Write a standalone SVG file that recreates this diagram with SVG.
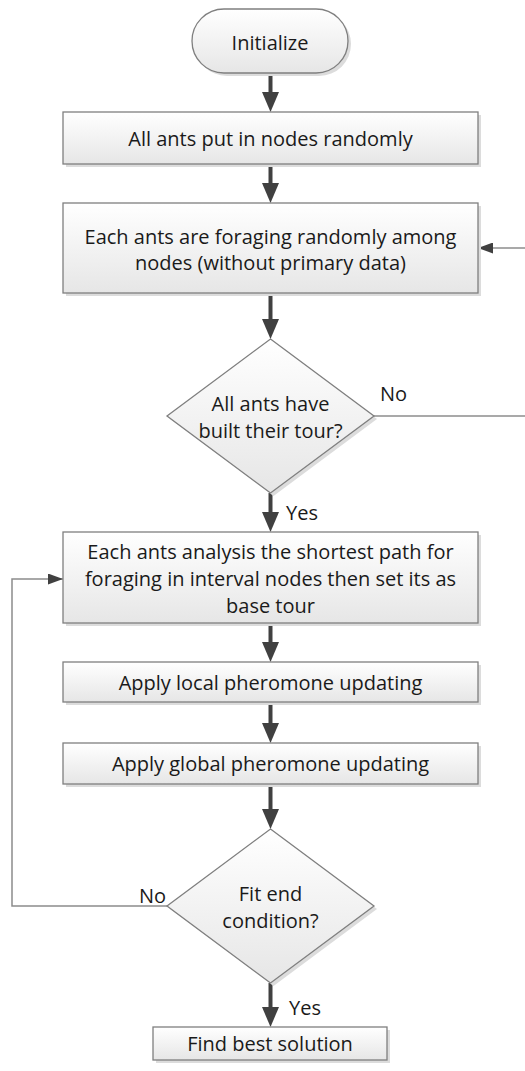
<svg xmlns="http://www.w3.org/2000/svg" width="525" height="1071" viewBox="0 0 525 1071">
<style>
.box{fill:url(#g);stroke:#7f7f7f;stroke-width:1.3}
.sh{fill:#dcdcdc}
.t{font-family:"Open Sans","Noto Sans",sans-serif;font-size:20px;fill:#1a1a1a;text-anchor:middle;dominant-baseline:central}
.lbl{font-family:"Open Sans","Noto Sans",sans-serif;font-size:20px;fill:#1a1a1a;dominant-baseline:central}
.main{stroke:#404040;stroke-width:4;fill:none;marker-end:url(#ah)}
.thin{stroke:#8c8c8c;stroke-width:1.5;fill:none}
</style>
<defs>
<linearGradient id="g" x1="0" y1="0" x2="0" y2="1">
<stop offset="0" stop-color="#ffffff"/>
<stop offset="1" stop-color="#e6e6e6"/>
</linearGradient>
<marker id="ah" viewBox="0 0 20 17" refX="12" refY="8.5" markerWidth="20" markerHeight="17" orient="auto" markerUnits="userSpaceOnUse">
<path d="M0,0 L20,8.5 L0,17 Z" fill="#404040"/>
</marker>
<marker id="ahs" viewBox="0 0 15 11" refX="15" refY="5.5" markerWidth="15" markerHeight="11" orient="auto" markerUnits="userSpaceOnUse">
<path d="M0,0 L15,5.5 L0,11 Z" fill="#404040"/>
</marker>
</defs>
<rect width="525" height="1071" fill="#ffffff"/>

<g id="connectors">
<line class="main" x1="270.5" y1="73" x2="270.5" y2="104"/>
<line class="main" x1="270.5" y1="164" x2="270.5" y2="195"/>
<line class="main" x1="270.5" y1="293" x2="270.5" y2="331"/>
<line class="main" x1="270.5" y1="493" x2="270.5" y2="524"/>
<line class="main" x1="270.5" y1="623" x2="270.5" y2="654"/>
<line class="main" x1="270.5" y1="702" x2="270.5" y2="735"/>
<line class="main" x1="270.5" y1="784" x2="270.5" y2="821"/>
<line class="main" x1="270.5" y1="983" x2="270.5" y2="1019"/>
<line class="thin" x1="525" y1="248" x2="478" y2="248" marker-end="url(#ahs)"/>
<line class="thin" x1="374" y1="416" x2="525" y2="416"/>
<polyline class="thin" points="167,906 12,906 12,579 63,579" marker-end="url(#ahs)"/>
<text class="lbl" x="380" y="393">No</text>
<text class="lbl" x="286" y="512">Yes</text>
<text class="lbl" x="139" y="895">No</text>
<text class="lbl" x="289" y="1007">Yes</text>
</g>

<g id="initialize">
<rect class="sh" x="195" y="12" width="156" height="64" rx="32"/>
<rect class="box" x="192" y="9" width="156" height="64" rx="32"/>
<text class="t" x="270" y="42">Initialize</text>
</g>

<g id="put-ants">
<rect class="sh" x="66" y="115" width="415" height="52"/>
<rect class="box" x="63" y="112" width="415" height="52"/>
<text class="t" x="270.5" y="138">All ants put in nodes randomly</text>
</g>

<g id="foraging">
<rect class="sh" x="66" y="206" width="415" height="90"/>
<rect class="box" x="63" y="203" width="415" height="90"/>
<text class="t" x="270.5" y="236">Each ants are foraging randomly among</text>
<text class="t" x="270.5" y="262">nodes (without primary data)</text>
</g>

<g id="tour-built">
<polygon class="sh" points="273.5,342 377,419 273.5,496 170,419"/>
<polygon class="box" points="270.5,339 374,416 270.5,493 167,416"/>
<text class="t" x="270.5" y="403">All ants have</text>
<text class="t" x="270.5" y="430">built their tour?</text>
</g>

<g id="analysis">
<rect class="sh" x="66" y="535" width="415" height="91"/>
<rect class="box" x="63" y="532" width="415" height="91"/>
<text class="t" x="270.5" y="551">Each ants analysis the shortest path for</text>
<text class="t" x="270.5" y="578">foraging in interval nodes then set its as</text>
<text class="t" x="270.5" y="605">base tour</text>
</g>

<g id="local-update">
<rect class="sh" x="66" y="665" width="415" height="40"/>
<rect class="box" x="63" y="662" width="415" height="40"/>
<text class="t" x="270.5" y="682">Apply local pheromone updating</text>
</g>

<g id="global-update">
<rect class="sh" x="66" y="746" width="415" height="41"/>
<rect class="box" x="63" y="743" width="415" height="41"/>
<text class="t" x="270.5" y="763">Apply global pheromone updating</text>
</g>

<g id="end-condition">
<polygon class="sh" points="273.5,832 377,909 273.5,986 170,909"/>
<polygon class="box" points="270.5,829 374,906 270.5,983 167,906"/>
<text class="t" x="270.5" y="893">Fit end</text>
<text class="t" x="270.5" y="920">condition?</text>
</g>

<g id="best-solution">
<rect class="sh" x="156" y="1030" width="234" height="33"/>
<rect class="box" x="153" y="1027" width="234" height="33"/>
<text class="t" x="270" y="1043">Find best solution</text>
</g>
</svg>
